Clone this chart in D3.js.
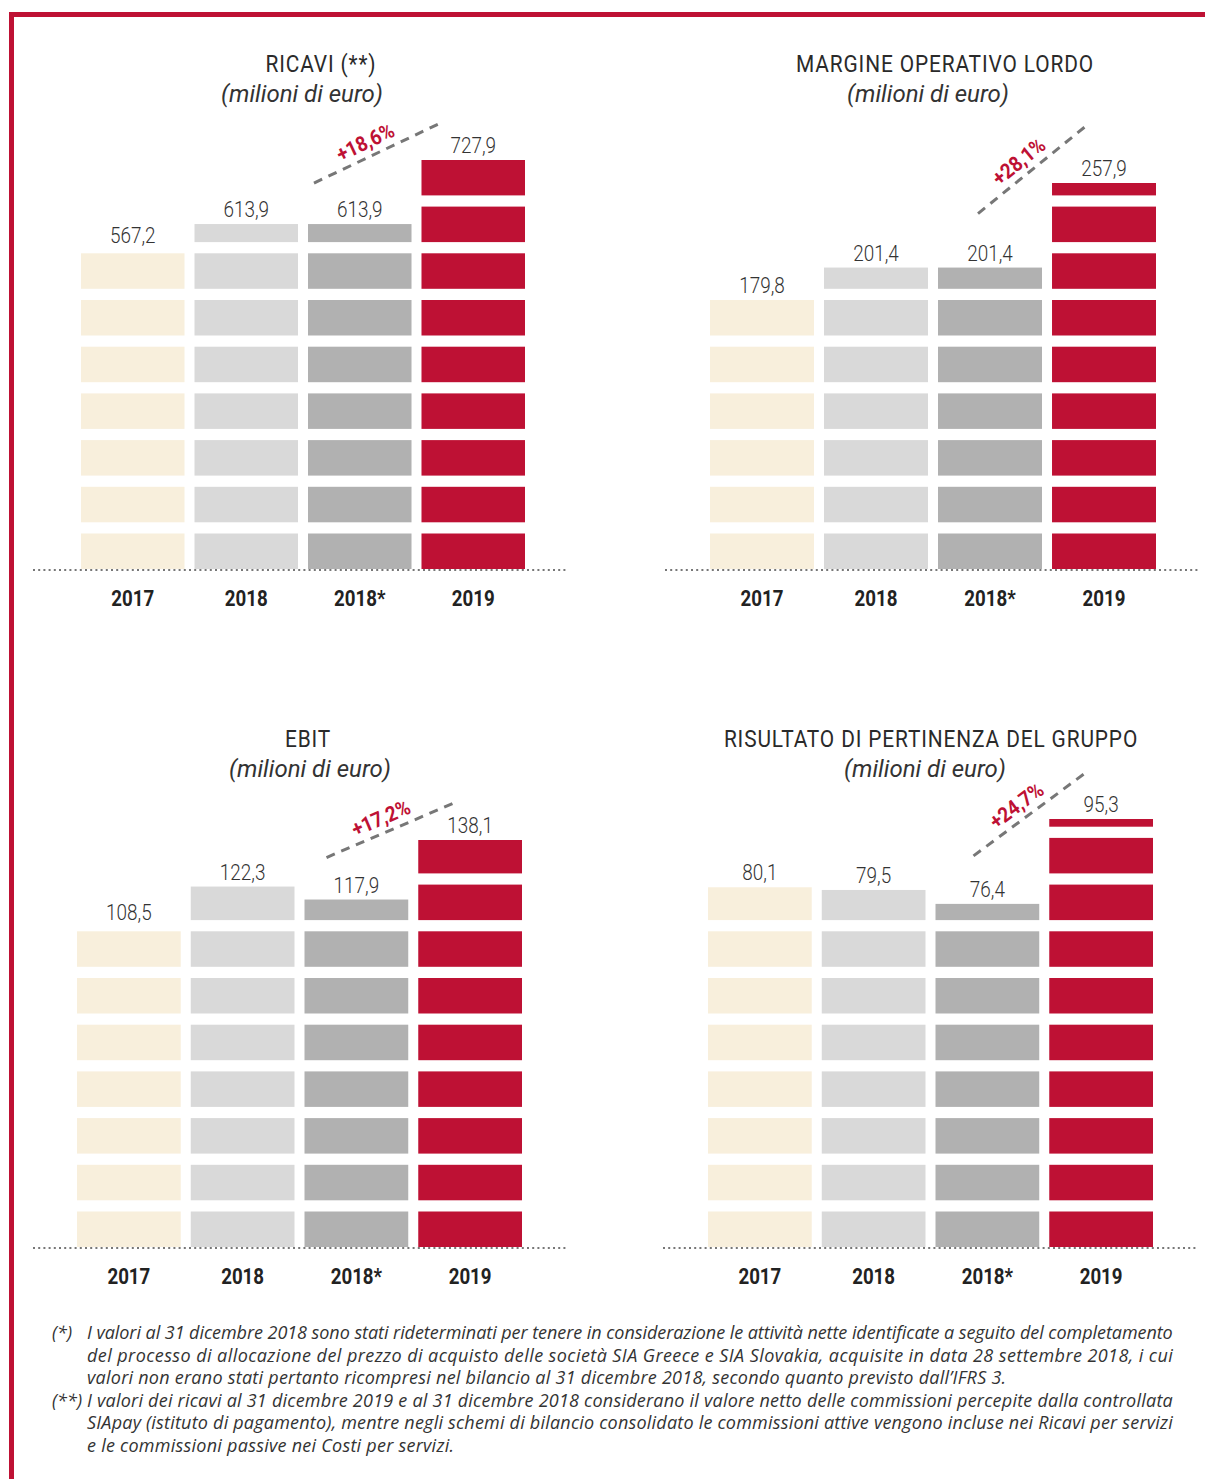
<!DOCTYPE html>
<html>
<head>
<meta charset="utf-8">
<script src="https://cdnjs.cloudflare.com/ajax/libs/d3/7.8.5/d3.min.js"></script>
<style>
  html, body { margin: 0; padding: 0; background: #fff; }
  svg { display: block; }
</style>
</head>
<body>
<script>
// ---------------- DATA ----------------
const categories = ["2017", "2018", "2018*", "2019"];
const ricavi = [567.2, 613.9, 613.9, 727.9];
const margineOperativoLordo = [179.8, 201.4, 201.4, 257.9];
const ebit = [108.5, 122.3, 117.9, 138.1];
const risultatoGruppo = [80.1, 79.5, 76.4, 95.3];
const growthLabels = ["+18,6%", "+28,1%", "+17,2%", "+24,7%"];
const chartTitles = ["RICAVI (**)", "MARGINE OPERATIVO LORDO", "EBIT", "RISULTATO DI PERTINENZA DEL GRUPPO"];
const unitLabel = "(milioni di euro)";
const footnoteMarks = ["(*)", "(**)"];
const footnoteLines = [
  ["I valori al 31 dicembre 2018 sono stati rideterminati per tenere in considerazione le attività nette identificate a seguito del completamento",
   "del processo di allocazione del prezzo di acquisto delle società SIA Greece e SIA Slovakia, acquisite in data 28 settembre 2018, i cui",
   "valori non erano stati pertanto ricompresi nel bilancio al 31 dicembre 2018, secondo quanto previsto dall’IFRS 3."],
  ["I valori dei ricavi al 31 dicembre 2019 e al 31 dicembre 2018 considerano il valore netto delle commissioni percepite dalla controllata",
   "SIApay (istituto di pagamento), mentre negli schemi di bilancio consolidato le commissioni attive vengono incluse nei Ricavi per servizi",
   "e le commissioni passive nei Costi per servizi."]
];
const seriesList = [ricavi, margineOperativoLordo, ebit, risultatoGruppo];

// ---------------- LAYOUT / STYLE ----------------
const W = 1205, H = 1479;
const RED = "#be1134";
const barColors = ["#f8efdc", "#d9d9d9", "#b1b1b1", RED];
const SEG_PITCH = 46.7, SEG_H = 35.5;
const panels = [
  { x0: 81, x1: 525, base: 569, plotH: 409, axis: [33, 566], titleX: 321, subX: 302, titleY: 72, subY: 102,
    trend: { s: [6, 41], e: [17, 36] } },
  { x0: 710, x1: 1156, base: 569, plotH: 386, axis: [665, 1198], titleX: 945, subX: 928, titleY: 72, subY: 102,
    trend: { s: [40, 54], e: [34, 57] } },
  { x0: 77, x1: 522, base: 1247, plotH: 407, axis: [33, 566], titleX: 308, subX: 310, titleY: 747, subY: 777,
    trend: { s: [22, 42], e: [38, 38] } },
  { x0: 708, x1: 1153, base: 1247, plotH: 428, axis: [663, 1196], titleX: 931, subX: 925, titleY: 747, subY: 777,
    trend: { s: [38, 48], e: [36, 46] } }
];

const fmt = d3.formatLocale({ decimal: ",", thousands: ".", grouping: [3], currency: ["", "€"] }).format(".1f");

const svg = d3.select("body").append("svg").attr("width", W).attr("height", H);

// frame
svg.append("rect").attr("x", 9).attr("y", 12).attr("width", W - 9).attr("height", 5).attr("fill", RED);
svg.append("rect").attr("x", 9).attr("y", 12).attr("width", 5).attr("height", H - 12).attr("fill", RED);

function condText(g, x, y, txt, opts) {
  const gg = g.append("g").attr("transform", `translate(${x},${y})`);
  return gg.append("text")
    .attr("transform", `scale(${opts.sx || 1},1)`)
    .attr("text-anchor", opts.anchor || "middle")
    .attr("font-family", opts.family || "Roboto, sans-serif")
    .attr("font-size", opts.size)
    .attr("font-weight", opts.weight || 400)
    .attr("font-style", opts.style || "normal")
    .attr("fill", opts.fill || "#333")
    .text(txt);
}

panels.forEach((p, pi) => {
  const values = seriesList[pi];
  const g = svg.append("g");
  const x = d3.scaleBand().domain(categories).range([p.x0, p.x1]).paddingInner(0.088).paddingOuter(0);
  const y = d3.scaleLinear().domain([0, d3.max(values)]).range([p.base, p.base - p.plotH]);

  // title + subtitle
  condText(g, p.titleX, p.titleY, chartTitles[pi], { size: 24, weight: 400, sx: 0.87, fill: "#2a2a2a" })
    .attr("letter-spacing", 1);
  condText(g, p.subX, p.subY, unitLabel, { size: 24, weight: 400, style: "italic", fill: "#333" });

  // bars made of stacked segments
  categories.forEach((c, i) => {
    const top = y(values[i]);
    const segs = [];
    for (let k = 0; p.base - k * SEG_PITCH > top + 0.01; k++) {
      const b = p.base - k * SEG_PITCH;
      const t = Math.max(b - SEG_H, top);
      if (t < b) segs.push([t, b]);
    }
    g.selectAll(null).data(segs).enter().append("rect")
      .attr("x", x(c)).attr("width", x.bandwidth())
      .attr("y", d => d[0]).attr("height", d => d[1] - d[0])
      .attr("fill", barColors[i]);
    condText(g, x(c) + x.bandwidth() / 2, top - 7, fmt(values[i]), { size: 22, weight: 300, sx: 0.86, fill: "#333" });
    condText(g, x(c) + x.bandwidth() / 2, p.base + 37, c, { size: 22, weight: 700, sx: 0.85, fill: "#222" });
  });

  // dotted baseline
  g.append("line").attr("x1", p.axis[0]).attr("x2", p.axis[1])
    .attr("y1", p.base + 1).attr("y2", p.base + 1)
    .attr("stroke", "#777").attr("stroke-width", 2).attr("stroke-dasharray", "2,3.2");

  // growth trend line
  const sx = x(categories[2]) + p.trend.s[0], sy = y(values[2]) - p.trend.s[1];
  const ex = x(categories[3]) + p.trend.e[0], ey = y(values[3]) - p.trend.e[1];
  g.append("line").attr("x1", sx).attr("y1", sy).attr("x2", ex).attr("y2", ey)
    .attr("stroke", "#777").attr("stroke-width", 3).attr("stroke-dasharray", "9,7");
  const len = Math.hypot(ex - sx, ey - sy);
  const ux = (ex - sx) / len, uy = (ey - sy) / len;
  const ang = Math.atan2(ey - sy, ex - sx) * 180 / Math.PI;
  const mx = (sx + ex) / 2 - 5 * ux + 15 * uy;
  const my = (sy + ey) / 2 - 5 * uy - 15 * ux;
  g.append("g").attr("transform", `translate(${mx},${my}) rotate(${ang})`)
    .append("text").attr("transform", "scale(0.9,1)")
    .attr("text-anchor", "middle").attr("dominant-baseline", "central")
    .attr("font-family", "Roboto, sans-serif").attr("font-size", 21).attr("font-weight", 700)
    .attr("fill", RED).text(growthLabels[pi]);
});

// footnotes
const fn = svg.append("g").attr("font-family", "'Open Sans', sans-serif").attr("font-style", "italic")
  .attr("font-size", 18).attr("letter-spacing", 0.25).attr("fill", "#333");
let lineIdx = 0;
footnoteLines.forEach((para, pi) => {
  fn.append("text").attr("x", 52).attr("y", 1339 + lineIdx * 22.5).attr("letter-spacing", 0).text(footnoteMarks[pi]);
  para.forEach((ln, li) => {
    const t = fn.append("text").attr("x", 87).attr("y", 1339 + lineIdx * 22.5).text(ln);
    if (li < para.length - 1) t.attr("textLength", 1086).attr("lengthAdjust", "spacing");
    lineIdx++;
  });
});
</script>
</body>
</html>
